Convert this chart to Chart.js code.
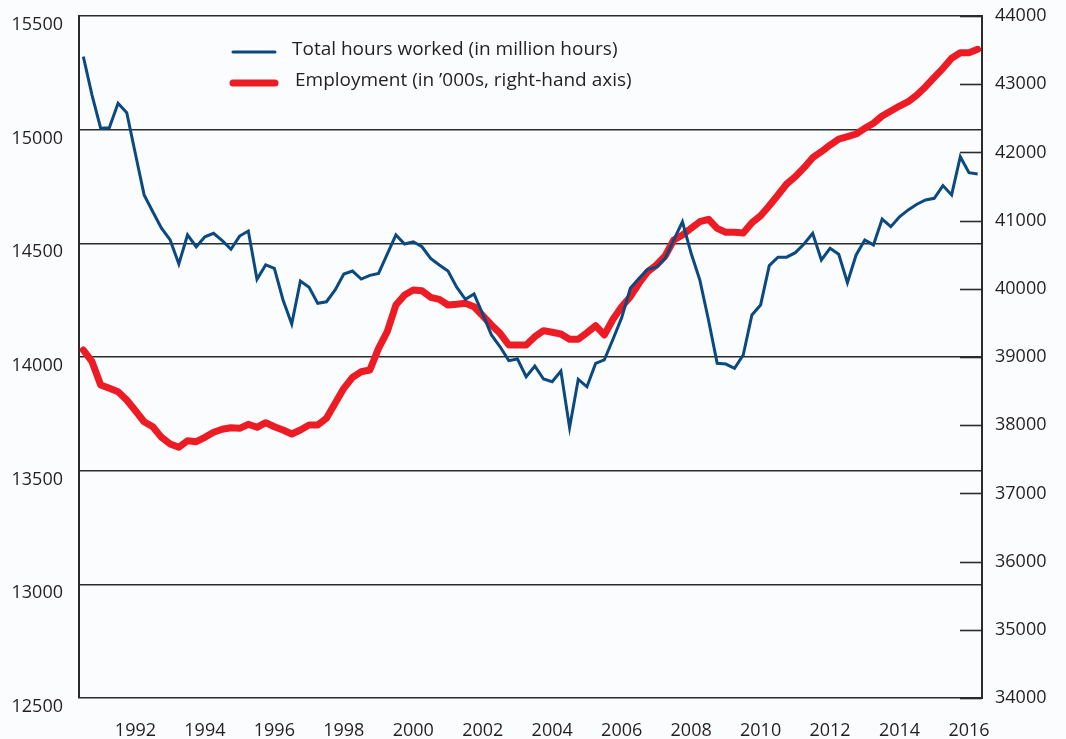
<!DOCTYPE html>
<html>
<head>
<meta charset="utf-8">
<script src="https://cdn.jsdelivr.net/npm/chart.js@4.4.1/dist/chart.umd.min.js"></script>
<style>
  html, body { margin: 0; padding: 0; background: #fbfcfe; }
  #wrap { width: 1066px; height: 739px; }
</style>
</head>
<body>
<div id="wrap"><canvas id="hoursChart"></canvas></div>
<script>
// quarterly data, first point is 1990 Q3
var firstYear = 1990, firstQuarter = 3;

var hoursWorked = [
  15321, 15152, 15006, 15009, 15116, 15075, 14893, 14713, 14639, 14567,
  14515, 14409, 14537, 14485, 14529, 14544, 14512, 14474, 14532, 14554,
  14342, 14405, 14390, 14251, 14145, 14334, 14307, 14236, 14243, 14295,
  14365, 14378, 14343, 14359, 14368, 14453, 14537, 14497, 14507, 14485,
  14434, 14405, 14378, 14307, 14254, 14277, 14189, 14097, 14045, 13984,
  13991, 13913, 13960, 13903, 13891, 13938, 13689, 13902, 13869, 13972,
  13987, 14078, 14173, 14302, 14346, 14386, 14395, 14434, 14515, 14595,
  14456, 14339, 14163, 13972, 13969, 13950, 14009, 14185, 14229, 14402,
  14439, 14439, 14459, 14497, 14544, 14427, 14478, 14452, 14327, 14449,
  14515, 14493, 14607, 14573, 14617, 14647, 14672, 14691, 14698, 14754,
  14713, 14881, 14811, 14805
];

var employment = [
  39103, 38931, 38589, 38541, 38491, 38369, 38213, 38051, 37978, 37822,
  37724, 37676, 37773, 37758, 37822, 37896, 37940, 37963, 37954, 38013,
  37969, 38037, 37978, 37930, 37871, 37930, 38003, 38003, 38101, 38321,
  38541, 38702, 38784, 38809, 39127, 39371, 39762, 39909, 39982, 39972,
  39875, 39846, 39762, 39773, 39787, 39737, 39605, 39469, 39347, 39176,
  39176, 39176, 39298, 39386, 39362, 39337, 39259, 39259, 39356, 39459,
  39323, 39553, 39737, 39884, 40081, 40251, 40349, 40481, 40715, 40789,
  40887, 40984, 41019, 40887, 40828, 40828, 40818, 40969, 41072, 41218,
  41375, 41537, 41644, 41776, 41922, 42010, 42108, 42196, 42230, 42270,
  42353, 42427, 42534, 42607, 42680, 42743, 42842, 42963, 43101, 43233,
  43380, 43462, 43462, 43512
];

var xTickYears = [1992, 1994, 1996, 1998, 2000, 2002, 2004, 2006, 2008, 2010, 2012, 2014, 2016];
var hoursRange = [12500, 15500];
var employmentRange = [34000, 44000];

var seriesNames = ['Total hours worked (in million hours)', 'Employment (in \u2019000s, right-hand axis)'];

// quarter labels
var quarterYear = [], quarterNum = [], quarters = [];
for (var i = 0; i < hoursWorked.length; i++) {
  var q = firstQuarter - 1 + i;
  quarterYear.push(firstYear + Math.floor(q / 4));
  quarterNum.push(q % 4 + 1);
  quarters.push(quarterYear[i] + ' Q' + quarterNum[i]);
}

var textColor = '#231f20';
var lineColor = '#2b2b2b';
var fontFamily = '"Open Sans", sans-serif';

// small tick marks on the inner side of the right axis
var rightTicks = {
  id: 'rightTicks',
  afterDraw: function (chart) {
    var ctx = chart.ctx, scale = chart.scales.y1, area = chart.chartArea;
    ctx.save();
    ctx.strokeStyle = lineColor;
    ctx.lineWidth = 1.6;
    scale.ticks.forEach(function (t) {
      var y = Math.round(scale.getPixelForValue(t.value)) + 0.5;
      ctx.beginPath();
      ctx.moveTo(area.right - 22, y);
      ctx.lineTo(area.right, y);
      ctx.stroke();
    });
    ctx.restore();
  }
};

// legend drawn inside the plot
var innerLegend = {
  id: 'innerLegend',
  afterDraw: function (chart) {
    var ctx = chart.ctx, area = chart.chartArea;
    ctx.save();
    ctx.font = '19px ' + fontFamily;
    ctx.textBaseline = 'middle';
    chart.data.datasets.forEach(function (ds, i) {
      var y = area.top + 36 + i * 31;
      ctx.strokeStyle = ds.borderColor;
      ctx.lineWidth = ds.borderWidth;
      ctx.lineCap = 'round';
      ctx.beginPath();
      ctx.moveTo(area.left + 154, y);
      ctx.lineTo(area.left + 196, y);
      ctx.stroke();
      ctx.fillStyle = textColor;
      ctx.fillText(ds.label, area.left + 213 + i * 3, y - 2);
    });
    ctx.restore();
  }
};

function fixWidth(w) {
  return function (scale) {
    scale.width = w;
    scale.paddingTop = 0;
    scale.paddingBottom = 0;
  };
}

var ctx = document.getElementById('hoursChart').getContext('2d');
var chart = new Chart(ctx, {
  type: 'line',
  data: {
    labels: quarters,
    datasets: [{
      label: seriesNames[0],
      data: hoursWorked,
      yAxisID: 'y',
      borderColor: '#0b4a80',
      borderWidth: 3,
      pointRadius: 0,
      tension: 0,
      fill: false
    }, {
      label: seriesNames[1],
      data: employment,
      yAxisID: 'y1',
      borderColor: '#ed1c24',
      borderWidth: 7,
      borderJoinStyle: 'round',
      borderCapStyle: 'round',
      pointRadius: 0,
      tension: 0,
      fill: false
    }]
  },
  options: {
    responsive: true,
    maintainAspectRatio: false,
    animation: false,
    layout: { padding: { top: 16, left: 0, right: 0, bottom: 0 } },
    plugins: {
      legend: { display: false },
      tooltip: { enabled: false }
    },
    scales: {
      x: {
        type: 'category',
        offset: true,
        grid: { display: false, drawTicks: false },
        border: { display: false },
        ticks: {
          autoSkip: false,
          maxRotation: 0,
          padding: 22,
          color: textColor,
          font: { family: fontFamily, size: 18 },
          callback: function (value, index) {
            if (quarterNum[index] === 1 && xTickYears.indexOf(quarterYear[index]) >= 0) {
              return String(quarterYear[index]);
            }
            return '';
          }
        },
        afterFit: function (scale) { scale.height = 41; }
      },
      y: {
        position: 'left',
        min: hoursRange[0],
        max: hoursRange[1],
        grid: { color: lineColor, lineWidth: 1.6, drawTicks: false },
        border: { color: lineColor, width: 2 },
        ticks: {
          stepSize: 500,
          padding: 16,
          labelOffset: 9,
          color: textColor,
          font: { family: fontFamily, size: 18 },
          callback: function (value) { return String(value); }
        },
        afterFit: fixWidth(79)
      },
      y1: {
        position: 'right',
        min: employmentRange[0],
        max: employmentRange[1],
        grid: { drawOnChartArea: false, drawTicks: false },
        border: { color: lineColor, width: 2 },
        ticks: {
          stepSize: 1000,
          padding: 13,
          color: textColor,
          font: { family: fontFamily, size: 18 },
          callback: function (value) { return String(value); }
        },
        afterFit: fixWidth(84)
      }
    }
  },
  plugins: [rightTicks, innerLegend]
});
</script>
</body>
</html>
